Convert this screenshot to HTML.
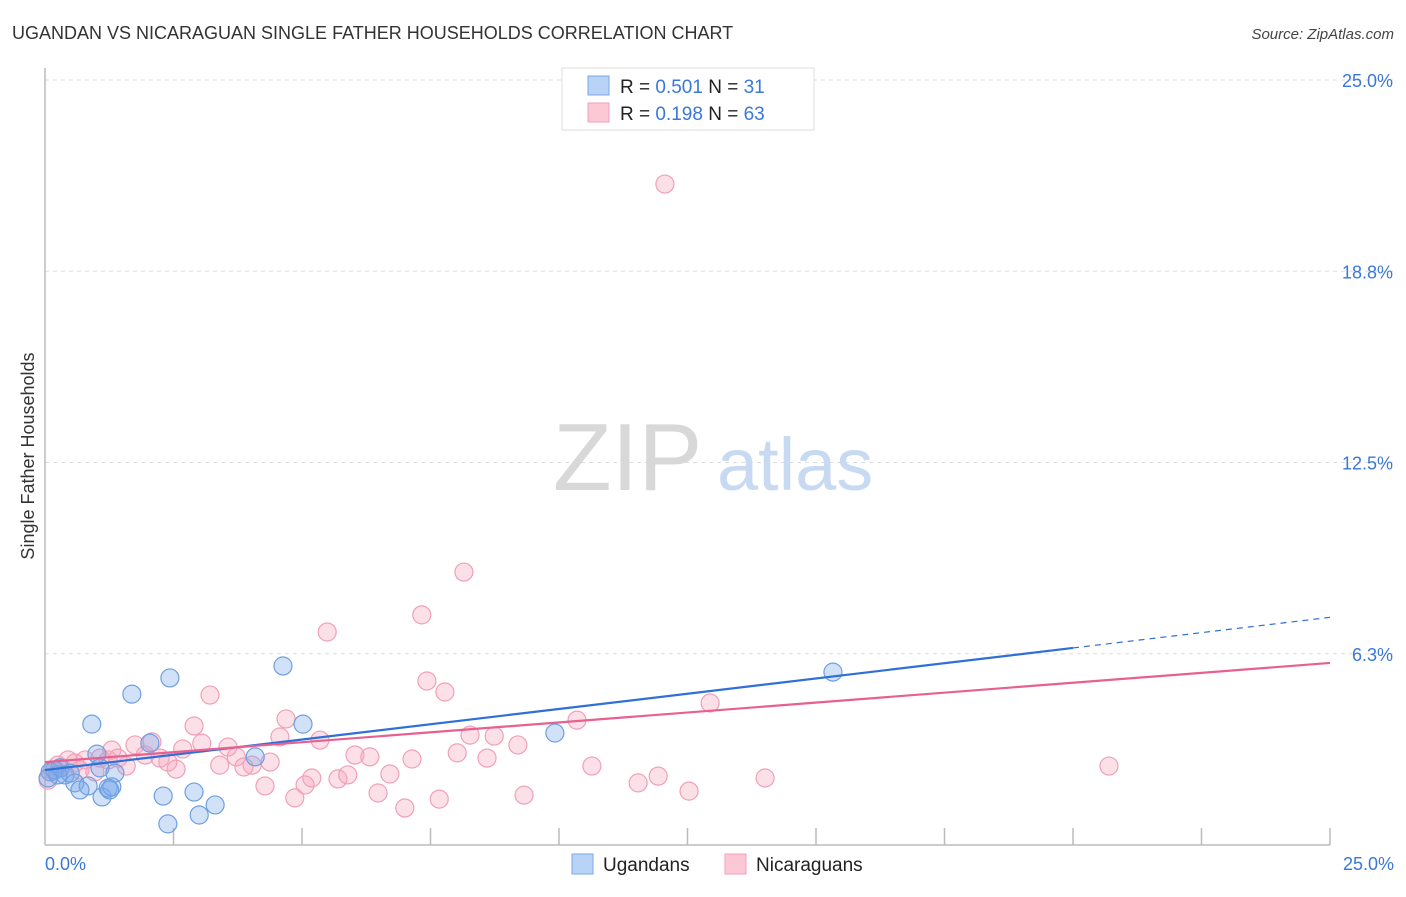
<!DOCTYPE html>
<html><head><meta charset="utf-8"><style>
body{margin:0;background:#fff;font-family:"Liberation Sans",sans-serif;}
svg text{font-family:"Liberation Sans",sans-serif;}
</style></head><body>
<svg id="chart" width="1406" height="892" xmlns="http://www.w3.org/2000/svg">
<text x="12" y="39" font-size="18" fill="#333">UGANDAN VS NICARAGUAN SINGLE FATHER HOUSEHOLDS CORRELATION CHART</text>
<text x="1394" y="39" font-size="15" fill="#444" text-anchor="end" font-style="italic">Source: ZipAtlas.com</text>
<g id="grid"></g>
<g>
<text x="553" y="490" font-size="96" fill="#d8d8d8" font-family="Liberation Serif, serif">ZIP</text>
<text x="717" y="490" font-size="74" fill="#c8daf2">atlas</text>
</g>
<line x1="45" y1="68" x2="45" y2="845" stroke="#bbb" stroke-width="1.5"/>
<line x1="45" y1="845" x2="1330" y2="845" stroke="#bbb" stroke-width="1.5"/>
<g id="xticks"></g>
<g id="ylabels"></g>
<g id="pinkpts"></g>
<g id="bluepts"></g>
<g id="lines"></g>
<text x="45" y="870" font-size="18" fill="#3a78d8">0.0%</text>
<text x="1394" y="870" font-size="18" fill="#3a78d8" text-anchor="end">25.0%</text>
<text transform="translate(34,456) rotate(-90)" font-size="18" fill="#333" text-anchor="middle">Single Father Households</text>
<g>
<rect x="562" y="68" width="252" height="62" fill="#fff" stroke="#ddd"/>
<rect x="588" y="76" width="21" height="19" fill="#b8d3f5" stroke="#7aa8e5"/>
<rect x="588" y="103" width="21" height="19" fill="#fcc8d6" stroke="#f0a0b8"/>
<text x="620" y="93" font-size="19" fill="#222">R = <tspan fill="#3a78d8">0.501</tspan>   N =  <tspan fill="#3a78d8">31</tspan></text>
<text x="620" y="120" font-size="19" fill="#222">R =  <tspan fill="#3a78d8">0.198</tspan>   N = <tspan fill="#3a78d8">63</tspan></text>
</g>
<g>
<rect x="572" y="854" width="21" height="20" fill="#b8d3f5" stroke="#7aa8e5"/>
<text x="603" y="871" font-size="19" fill="#222">Ugandans</text>
<rect x="725" y="854" width="21" height="20" fill="#fcc8d6" stroke="#f0a0b8"/>
<text x="756" y="871" font-size="19" fill="#222">Nicaraguans</text>
</g>
</svg>
<script>
const yTicks=[6.25,12.5,18.75,25];
const yTickLabels=["6.3%","12.5%","18.8%","25.0%"];
const xTicks=[2.5,5,7.5,10,12.5,15,17.5,20,22.5,25];
const blueX=[0.10,0.19,0.29,0.39,0.49,0.58,0.84,0.91,1.01,1.07,1.11,1.23,1.30,1.36,1.69,2.04,2.30,2.39,2.43,2.90,3.00,3.31,4.09,4.63,5.02,9.92,15.33,0.25,0.06,0.68,1.26];
const blueY=[2.39,2.45,2.52,2.29,2.35,2.03,1.93,3.95,2.97,2.52,1.57,1.86,1.90,2.35,4.93,3.33,1.60,0.69,5.46,1.73,0.98,1.31,2.88,5.85,3.95,3.66,5.65,2.29,2.19,1.80,1.80];
const pinkX=[0.06,0.14,0.25,0.33,0.45,0.58,0.68,0.78,0.97,1.07,1.23,1.30,1.42,1.58,1.75,1.95,2.08,2.24,2.39,2.55,2.68,2.90,3.05,3.21,3.40,3.56,3.72,3.87,4.03,4.28,4.38,4.57,4.69,4.86,5.06,5.19,5.35,5.49,5.70,5.89,6.03,6.32,6.48,6.71,7.00,7.14,7.33,7.43,7.67,7.78,8.02,8.15,8.27,8.60,8.74,9.20,9.32,10.35,10.64,11.54,11.93,12.06,12.53,12.94,14.01,20.70];
const pinkY=[2.12,2.45,2.61,2.52,2.78,2.68,2.45,2.78,2.39,2.84,2.78,3.10,2.84,2.58,3.27,2.94,3.37,2.84,2.71,2.48,3.14,3.89,3.33,4.90,2.61,3.20,2.88,2.55,2.61,1.93,2.71,3.53,4.12,1.54,1.96,2.19,3.43,6.96,2.16,2.29,2.94,2.88,1.70,2.32,1.21,2.81,7.52,5.36,1.50,5.00,3.01,8.92,3.59,2.84,3.56,3.27,1.63,4.08,2.58,2.03,2.25,21.60,1.76,4.64,2.19,2.58];
const blueLine=[0,2.45,20,6.44,25,7.44];
const pinkLine=[0,2.71,25,5.95];
const NS="http://www.w3.org/2000/svg";
const sx=v=>45+v/25*1285;
const sy=v=>845-v/25*765;
function mk(tag,attrs,parent){const e=document.createElementNS(NS,tag);for(const k in attrs)e.setAttribute(k,attrs[k]);document.getElementById(parent).appendChild(e);return e;}
yTicks.forEach((t,i)=>{
  const l=mk('line',{x1:45,x2:1394,y1:sy(t),y2:sy(t),stroke:'#ddd','stroke-dasharray':'4,4'},'grid');
  
  
  const tx=mk('text',{x:1393,y:sy(t)+7,'font-size':18,fill:'#3a78d8','text-anchor':'end'},'ylabels');
  tx.textContent=yTickLabels[i];
  
  
});
xTicks.forEach(t=>{
  const l=mk('line',{x1:sx(t),x2:sx(t),y1:828,y2:845,stroke:'#bbb','stroke-width':1.5},'xticks');
  
  
});
pinkX.forEach((x,i)=>{
  const c=mk('circle',{cx:sx(x),cy:sy(pinkY[i]),r:9,fill:'rgba(246,165,190,0.35)',stroke:'#f0a0b8','stroke-width':1.2},'pinkpts');
  
  
});
blueX.forEach((x,i)=>{
  const c=mk('circle',{cx:sx(x),cy:sy(blueY[i]),r:9,fill:'rgba(120,170,235,0.35)',stroke:'#6f9fe0','stroke-width':1.2},'bluepts');
  
  
});
let l1=mk('line',{x1:sx(blueLine[0]),y1:sy(blueLine[1]),x2:sx(blueLine[2]),y2:sy(blueLine[3]),stroke:'#2f6fd8','stroke-width':2.2},'lines');


let l2=mk('line',{x1:sx(blueLine[2]),y1:sy(blueLine[3]),x2:sx(blueLine[4]),y2:sy(blueLine[5]),stroke:'#2f6fd8','stroke-width':1.2,'stroke-dasharray':'6,5'},'lines');


let l3=mk('line',{x1:sx(pinkLine[0]),y1:sy(pinkLine[1]),x2:sx(pinkLine[2]),y2:sy(pinkLine[3]),stroke:'#e8608f','stroke-width':2.2},'lines');


</script>
</body></html>
